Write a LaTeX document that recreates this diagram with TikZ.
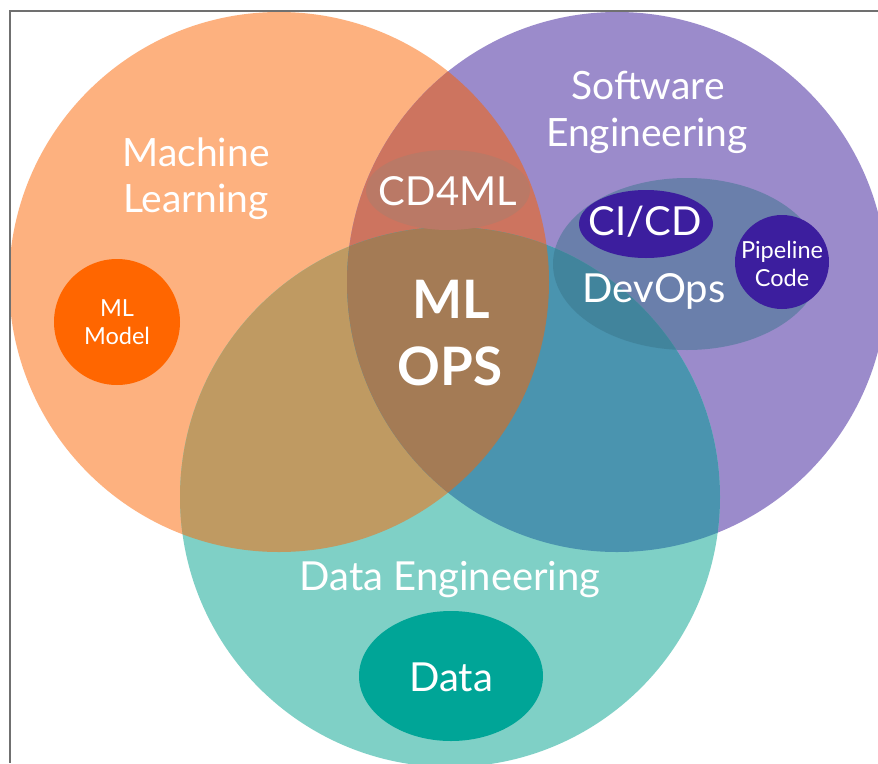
\documentclass[tikz,border=0pt]{standalone}
\usepackage{fontspec}
\setmainfont{Lato}
\definecolor{mlfill}{HTML}{FDB17F}
\definecolor{sefill}{HTML}{9B8BCB}
\definecolor{defill}{HTML}{7FD0C6}
\definecolor{mlse}{HTML}{CD745F}
\definecolor{mlde}{HTML}{BF9A62}
\definecolor{sede}{HTML}{4A94AF}
\definecolor{core}{HTML}{A47B55}
\definecolor{cdml}{HTML}{BA7966}
\definecolor{devops}{HTML}{39748A}
\definecolor{deep}{HTML}{3C1E9E}
\definecolor{model}{HTML}{FF6600}
\definecolor{datafill}{HTML}{00A597}
\definecolor{frame}{HTML}{707070}
\begin{document}
\begin{tikzpicture}[x=1pt,y=-1pt,
  lbl/.style={text=white, inner sep=0pt, anchor=base},
  big/.style={lbl, font=\fontsize{39}{47}\selectfont},
  mid/.style={lbl, font=\fontsize{40}{48}\selectfont},
  small/.style={lbl, font=\fontsize{23.5}{28}\selectfont},
  core label/.style={lbl, font=\fontsize{53}{64}\bfseries\selectfont},
]
\useasboundingbox (0,0) rectangle (878,763);
\fill[white] (0,0) rectangle (878,763);

% circle centres
\coordinate (mlc) at (279,282);
\coordinate (sec) at (617,282);
\coordinate (dec) at (450,497);

% the three discipline circles
\fill[mlfill] (mlc) circle[radius=270pt];
\fill[sefill] (sec) circle[radius=270pt];
\fill[defill] (dec) circle[radius=270pt];

% pairwise overlaps
\begin{scope}
  \clip (mlc) circle[radius=270pt];
  \fill[mlse] (sec) circle[radius=270pt];
  \fill[mlde] (dec) circle[radius=270pt];
\end{scope}
\begin{scope}
  \clip (sec) circle[radius=270pt];
  \fill[sede] (dec) circle[radius=270pt];
\end{scope}
% centre where all three meet
\begin{scope}
  \clip (mlc) circle[radius=270pt];
  \clip (sec) circle[radius=270pt];
  \fill[core] (dec) circle[radius=270pt];
\end{scope}

% inner shapes
\coordinate (cdc) at (448,190);
\coordinate (doc) at (687,264);
\coordinate (cic) at (646,224);
\coordinate (pic) at (782,262);
\coordinate (mmc) at (117,322);
\coordinate (dac) at (451,676);
\fill[cdml] (cdc) ellipse[x radius=82pt, y radius=40pt];
\fill[devops, fill opacity=0.49] (doc) ellipse[x radius=134pt, y radius=86pt];
\fill[deep] (cic) ellipse[x radius=67pt, y radius=34pt];
\fill[deep] (pic) circle[radius=47pt];
\fill[model] (mmc) circle[radius=63pt];
\fill[datafill] (dac) ellipse[x radius=92pt, y radius=65pt];

% labels
\node[big] (mlA) at (196,166) {Machine};
\node[big] (mlB) at (196,212) {Learning};
\node[big] (seA) at (648,99) {Software};
\node[big] (seB) at (647,146) {Engineering};
\node[mid] (cd4) at (448,205) {CD4ML};
\node[core label] (opsA) at (451,318) {ML};
\node[core label] (opsB) at (450,385) {OPS};
\node[mid] (cicd) at (645,235) {CI/CD};
\node[mid] (dvo) at (654,302) {DevOps};
\node[small] (piA) at (782,258) {Pipeline};
\node[small] (piB) at (782,286) {Code};
\node[small] (mmA) at (117,316) {ML};
\node[small] (mmB) at (117,344) {Model};
\node[mid] (deA) at (450,590) {Data Engineering};
\node[mid] (daA) at (451,691) {Data};

% frame edges
\coordinate (fTL) at (10,11);
\coordinate (fTR) at (878,11);
\coordinate (fBL) at (10,763);
\draw[frame, line width=1.5pt] (fTR) -- (fTL) -- (fBL);
\end{tikzpicture}
\end{document}
